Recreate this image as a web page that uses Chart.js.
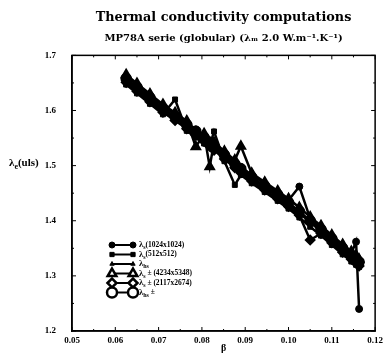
<!DOCTYPE html>
<html>
<head>
<meta charset="utf-8">
<script src="https://cdn.jsdelivr.net/npm/chart.js@4/dist/chart.umd.min.js"></script>
<style>
  html, body { margin: 0; padding: 0; background: #fff; }
</style>
</head>
<body>
<canvas id="chart" width="387" height="354"></canvas>
<script>
// porosity of the realisations (x)
var phi = [0.0625, 0.065, 0.068, 0.071, 0.0738, 0.0765, 0.0786, 0.0805, 0.0818, 0.0828, 0.0852, 0.0876, 0.089,
           0.0915, 0.0945, 0.0975, 0.1, 0.1025, 0.105, 0.1075, 0.11, 0.1125, 0.1145, 0.1156, 0.1163];

// effective conductivity of each run (uls)
var lamS1024 = [1.662, 1.646, 1.627, 1.608, 1.593, 1.578, 1.566, 1.555, 1.546, 1.539, 1.523, 1.507, 1.498,
                1.483, 1.467, 1.451, 1.437, 1.462, 1.404, 1.388, 1.371, 1.354, 1.341, 1.362, 1.240];
var lamS512 = [1.647, 1.631, 1.612, 1.593, 1.620, 1.563, 1.551, 1.540, 1.536, 1.562, 1.508, 1.465, 1.483,
               1.468, 1.452, 1.436, 1.422, 1.406, 1.389, 1.373, 1.356, 1.339, 1.326, 1.320, 1.316];
var lamHs = [1.655, 1.639, 1.620, 1.601, 1.586, 1.571, 1.559, 1.548, 1.539, 1.532, 1.516, 1.500, 1.491,
             1.476, 1.460, 1.444, 1.430, 1.414, 1.397, 1.381, 1.364, 1.347, 1.334, 1.327, 1.322];
var lamS4234 = [1.665, 1.649, 1.630, 1.611, 1.596, 1.581, 1.534, 1.558, 1.498, 1.542, 1.526, 1.510, 1.535,
                1.486, 1.470, 1.454, 1.440, 1.424, 1.407, 1.391, 1.374, 1.357, 1.344, 1.337, 1.330];
var lamS2117 = [1.651, 1.635, 1.616, 1.597, 1.582, 1.567, 1.555, 1.544, 1.535, 1.528, 1.512, 1.496, 1.487,
                1.472, 1.456, 1.440, 1.426, 1.410, 1.365, 1.377, 1.360, 1.343, 1.330, 1.323, 1.318];
var lamHsPm = [1.658, 1.642, 1.623, 1.604, 1.589, 1.574, 1.562, 1.551, 1.542, 1.535, 1.519, 1.503, 1.494,
               1.479, 1.463, 1.447, 1.433, 1.417, 1.400, 1.384, 1.367, 1.350, 1.337, 1.330, 1.325];

// legend text: [symbol, subscript, rest]
var legendLabels = [
  ['λ', 's', '(1024x1024)'],
  ['λ', 's', '(512x512)'],
  ['λ', 'hs', ''],
  ['λ', 's', ' ± (4234x5348)'],
  ['λ', 's', ' ± (2117x2674)'],
  ['λ', 'hs', ' ±']
];
var legendOpen = [false, false, false, true, true, true];

var SERIF = "'Liberation Serif', 'DejaVu Serif', serif";
var WIDE = "'DejaVu Serif', 'Liberation Serif', serif";

function pts(ys) {
  var out = [];
  for (var i = 0; i < phi.length; i++) out.push({ x: phi[i], y: ys[i] });
  return out;
}

function series(label, ys, style, radius, bw) {
  return {
    label: label,
    data: pts(ys),
    showLine: true,
    borderColor: '#000',
    borderWidth: 2.5,
    pointStyle: style,
    pointRadius: radius,
    pointBackgroundColor: '#000',
    pointBorderColor: '#000',
    pointBorderWidth: bw
  };
}

var datasets = [
  series('λs(1024x1024)', lamS1024, 'circle', 3.5, 1),
  series('λs(512x512)', lamS512, 'rect', 3.5, 1),
  series('λhs', lamHs, 'triangle', 3, 1),
  series('λs ± (4234x5348)', lamS4234, 'triangle', 4.5, 2.5),
  series('λs ± (2117x2674)', lamS2117, 'rectRot', 4, 2.5),
  series('λhs ±', lamHsPm, 'circle', 4.5, 2.5)
];

// frame on four sides with inward ticks, plus horizontal y title
var framePlugin = {
  id: 'frame',
  afterDraw: function(chart) {
    var ctx = chart.ctx, a = chart.chartArea;
    var xs = chart.scales.x, ys = chart.scales.y;
    ctx.save();
    ctx.strokeStyle = '#000';
    ctx.lineWidth = 1.5;
    ctx.strokeRect(a.left, a.top, a.right - a.left, a.bottom - a.top);
    ctx.lineWidth = 1;
    ctx.beginPath();
    for (var i = 0; i <= 14; i++) {
      var px = xs.getPixelForValue(0.05 + i * 0.005);
      var len = i % 2 === 0 ? 4 : 2;
      ctx.moveTo(px, a.bottom); ctx.lineTo(px, a.bottom - len);
      ctx.moveTo(px, a.top); ctx.lineTo(px, a.top + len);
    }
    for (var j = 0; j <= 10; j++) {
      var py = ys.getPixelForValue(1.2 + j * 0.05);
      var l2 = j % 2 === 0 ? 4 : 2;
      ctx.moveTo(a.left, py); ctx.lineTo(a.left + l2, py);
      ctx.moveTo(a.right, py); ctx.lineTo(a.right - l2, py);
    }
    ctx.stroke();

    var yMid = ys.getPixelForValue(1.5) - 2;
    ctx.fillStyle = '#000';
    ctx.textBaseline = 'middle';
    ctx.font = 'bold 11px ' + SERIF;
    var x0 = 9;
    ctx.fillText('λ', x0, yMid);
    x0 += ctx.measureText('λ').width;
    ctx.font = 'bold 8px ' + SERIF;
    ctx.fillText('e', x0, yMid + 3);
    x0 += ctx.measureText('e').width;
    ctx.font = 'bold 11px ' + SERIF;
    ctx.fillText('(uls)', x0, yMid);
    ctx.restore();
  }
};

// legend in the lower left of the plot: line with a marker at each end
var legendPlugin = {
  id: 'innerLegend',
  afterDraw: function(chart) {
    var ctx = chart.ctx;
    var xa = 112, xb = 133, xt = 139, y0 = 245, dy = 9.5;
    ctx.save();
    chart.data.datasets.forEach(function(ds, i) {
      var y = y0 + i * dy;
      ctx.strokeStyle = '#000';
      ctx.lineWidth = 2;
      ctx.beginPath();
      ctx.moveTo(xa, y); ctx.lineTo(xb, y);
      ctx.stroke();
      var r = legendOpen[i] ? ds.pointRadius + 0.5 : ds.pointRadius - 0.5;
      [xa, xb].forEach(function(px) {
        ctx.fillStyle = legendOpen[i] ? '#fff' : '#000';
        ctx.strokeStyle = '#000';
        ctx.lineWidth = ds.pointBorderWidth;
        Chart.helpers.drawPoint(ctx, { pointStyle: ds.pointStyle, radius: r, borderWidth: ctx.lineWidth, rotation: 0 }, px, y);
      });
      var lab = legendLabels[i];
      ctx.fillStyle = '#000';
      ctx.textBaseline = 'middle';
      var tx = xt;
      ctx.font = 'bold 8.5px ' + SERIF;
      ctx.fillText(lab[0], tx, y);
      tx += ctx.measureText(lab[0]).width;
      ctx.font = 'bold 6px ' + SERIF;
      ctx.fillText(lab[1], tx, y + 2.5);
      tx += ctx.measureText(lab[1]).width;
      ctx.font = 'bold 7.5px ' + SERIF;
      ctx.fillText(lab[2], tx, y);
    });
    ctx.restore();
  }
};

new Chart(document.getElementById('chart'), {
  type: 'scatter',
  data: { datasets: datasets },
  plugins: [framePlugin, legendPlugin],
  options: {
    responsive: false,
    animation: false,
    layout: { padding: { left: 0, right: 9, top: 0, bottom: 0 } },
    plugins: {
      legend: { display: false },
      tooltip: { enabled: false },
      title: {
        display: true,
        fullSize: false,
        text: 'Thermal conductivity computations',
        color: '#000',
        font: { family: WIDE, size: 12.8, weight: 'bold' },
        padding: { top: 10, bottom: 7 }
      },
      subtitle: {
        display: true,
        fullSize: false,
        text: 'MP78A serie (globular) (λₘ 2.0 W.m⁻¹.K⁻¹)',
        color: '#000',
        font: { family: WIDE, size: 10, weight: 'bold' },
        padding: { top: 0, bottom: 11 }
      }
    },
    scales: {
      x: {
        type: 'linear',
        min: 0.05,
        max: 0.12,
        grid: { display: false, drawTicks: false },
        border: { display: true, color: '#000', width: 1.5 },
        ticks: {
          stepSize: 0.01,
          padding: 4,
          color: '#000',
          font: { family: SERIF, size: 9, weight: 'bold' },
          callback: function(v) { return v.toFixed(2); }
        },
        title: {
          display: true,
          text: 'β',
          color: '#000',
          font: { family: SERIF, size: 10, weight: 'bold' },
          padding: { top: 0, bottom: 0 }
        },
        afterFit: function(s) { s.height = 23; }
      },
      y: {
        min: 1.2,
        max: 1.7,
        grid: { display: false, drawTicks: false },
        border: { display: true, color: '#000', width: 1.5 },
        ticks: {
          stepSize: 0.1,
          padding: 16,
          color: '#000',
          font: { family: SERIF, size: 9, weight: 'bold' },
          callback: function(v) { return v.toFixed(1); }
        },
        afterFit: function(s) { s.width = 72; }
      }
    }
  }
});
</script>
</body>
</html>
